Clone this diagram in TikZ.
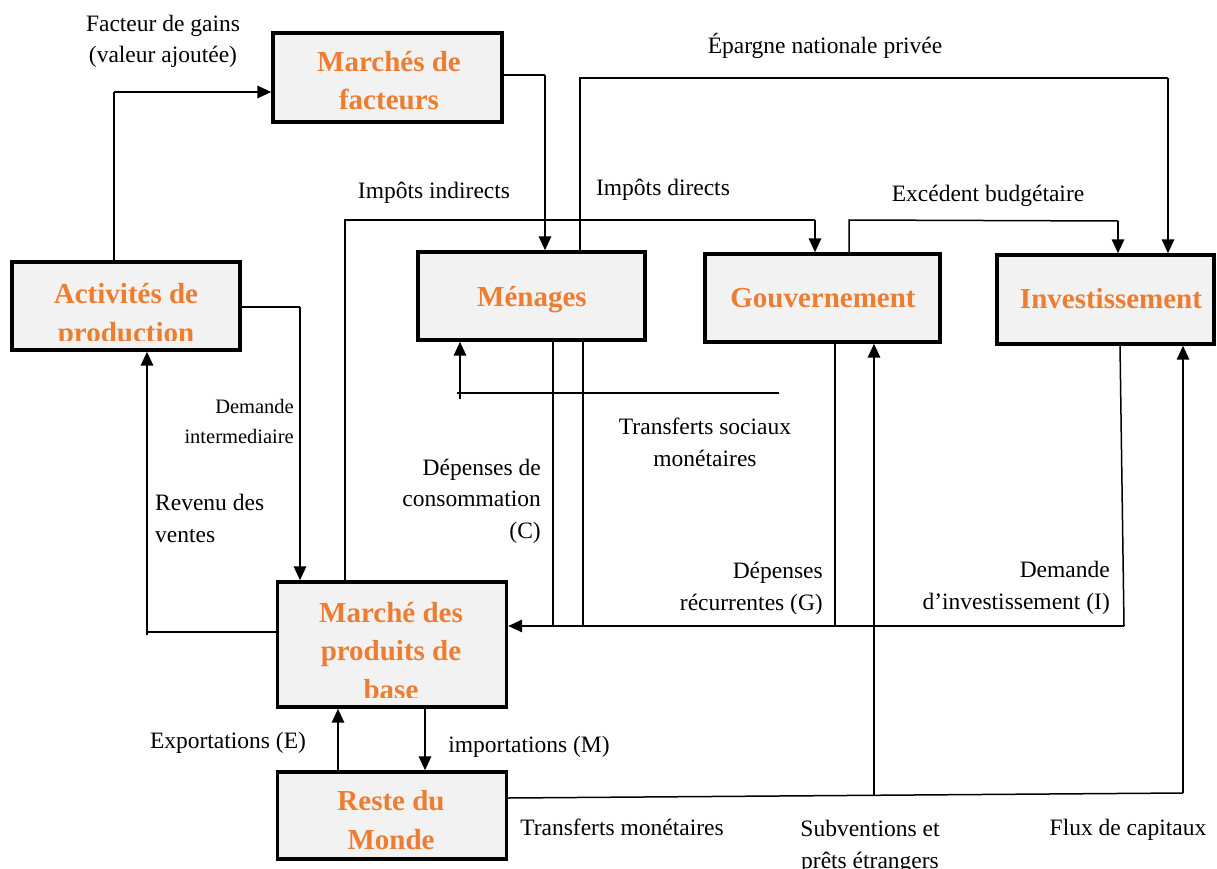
\documentclass[tikz,border=0pt]{standalone}
\usepackage{fontspec}
\setmainfont{Liberation Serif}
\usetikzlibrary{arrows.meta}
\definecolor{ttlc}{HTML}{ED7D31}
\definecolor{bxc}{HTML}{F2F2F2}
\begin{document}
\begin{tikzpicture}[x=1pt,y=-1pt,
  box/.style={draw, line width=3.2pt, fill=bxc, inner sep=0pt},
  ttl/.style={text=ttlc, font=\fontsize{29}{38.5}\selectfont\bfseries, align=center, inner sep=0pt},
  lbl/.style={font=\fontsize{23.5}{31.5}\selectfont, inner sep=0pt},
  sml/.style={font=\fontsize{20.5}{30}\selectfont, inner sep=0pt},
  ln/.style={line width=1.5pt},
  arr/.style={line width=2.8pt, -{Triangle[length=14pt,width=12pt]}},
]
\useasboundingbox (0,0) rectangle (1217,869);
\fill[white] (0,0) rectangle (1217,869);

% boxes
\node[box, minimum width=229pt, minimum height=89pt] (fac) at (387.5,77.5) {};
\node[box, minimum width=228pt, minimum height=88pt] (act) at (126,306) {};
\node[box, minimum width=227pt, minimum height=88pt] (men) at (531.5,296) {};
\node[box, minimum width=235pt, minimum height=88pt] (gov) at (822.5,298) {};
\node[box, minimum width=217pt, minimum height=89pt] (inv) at (1105.5,299.5) {};
\node[box, minimum width=229pt, minimum height=125pt] (mpb) at (392,644.5) {};
\node[box, minimum width=229pt, minimum height=87pt] (rdm) at (392,815.5) {};

% box titles (anchor=base is the baseline of the last line)
\node[ttl, anchor=base] at (389,110) {Marchés de\\facteurs};
\begin{scope}
  \clip (14,264) rectangle (238,340);
  \node[ttl, anchor=base] at (126,342) {Activités de\\production};
\end{scope}
\node[ttl, anchor=base] at (532,306) {Ménages};
\node[ttl, anchor=base] at (823,307) {Gouvernement};
\node[ttl, anchor=base] at (1111,308) {Investissement};
\begin{scope}
  \clip (280,584) rectangle (503,697);
  \node[ttl, anchor=base] at (391,699) {Marché des\\produits de\\base};
\end{scope}
\node[ttl, anchor=base] at (391,849) {Reste du\\Monde};

% coordinates
\coordinate (a1) at (114,92);
\coordinate (a2) at (545,75);
\coordinate (a3) at (580,78);
\coordinate (a4) at (1168,78);
\coordinate (a5) at (345,220);
\coordinate (a6) at (815,220);
\coordinate (a7) at (849,220);
\coordinate (a8) at (1118,221);
\coordinate (a9) at (300,307);
\coordinate (a10) at (147,632);
\coordinate (a10b) at (147,635);
\coordinate (a11) at (779,393);
\coordinate (a12) at (457,393);
\coordinate (a12b) at (460,399);
\coordinate (a13) at (553,626);
\coordinate (a14) at (583,626);
\coordinate (a15) at (1124,626);
\coordinate (a16) at (1120,0);
\coordinate (a17) at (835,626);
\coordinate (a18) at (874,796);
\coordinate (a19) at (1183,793);
\coordinate (a20) at (505,798);
\coordinate (a21) at (338,0);
\coordinate (a22) at (425,0);

% connectors
\draw[ln] (act.north -| a1) -- (a1);
\draw[arr] (a1) -- (a1 -| fac.west);
\draw[ln] (fac.east |- a2) -- (a2);
\draw[arr] (a2) -- (a2 |- men.north);
\draw[ln] (a3 |- men.north) -- (a3) -- (a4);
\draw[arr] (a4) -- (a4 |- inv.north);
\draw[ln] (a5 |- mpb.north) -- (a5) -- (a6);
\draw[arr] (a6) -- (a6 |- gov.north);
\draw[ln] (a7 |- gov.north) -- (a7) -- (a8);
\draw[arr] (a8) -- (a8 |- inv.north);
\draw[ln] (act.east |- a9) -- (a9);
\draw[arr] (a9) -- (a9 |- mpb.north);
\draw[ln] (mpb.west |- a10) -- (a10);
\draw[arr] (a10b) -- (a10 |- act.south);
\draw[ln] (a11) -- (a12);
\draw[arr] (a12b) -- (a12b |- men.south);
\draw[ln] (a13 |- men.south) -- (a13);
\draw[ln] (a14 |- men.south) -- (a14);
\draw[ln] (inv.south -| a16) -- (a15);
\draw[arr] (a15) -- (a15 -| mpb.east);
\draw[ln] (a17 |- gov.south) -- (a17);
\draw[arr] (a18) -- (a18 |- gov.south);
\draw[ln] (rdm.east |- a20) -- (a19);
\draw[arr] (a19) -- (a19 |- inv.south);
\draw[arr] (rdm.north -| a21) -- (mpb.south -| a21);
\draw[arr] (mpb.south -| a22) -- (rdm.north -| a22);

% labels (anchor=base is the baseline of the last line)
\node[lbl, align=center, anchor=base] at (163,63) {Facteur de gains\\(valeur ajoutée)};
\node[lbl, anchor=base] at (825,54) {Épargne nationale privée};
\node[lbl, anchor=base] at (434,198) {Impôts indirects};
\node[lbl, anchor=base] at (663,196) {Impôts directs};
\node[lbl, anchor=base] at (988,201) {Excédent budgétaire};
\node[sml, align=right, anchor=base east] at (294,443) {Demande\\intermediaire};
\node[lbl, align=left, anchor=base west] at (155,542) {Revenu des\\ventes};
\node[lbl, align=right, anchor=base east] at (541,538) {Dépenses de\\consommation\\(C)};
\node[lbl, align=center, anchor=base] at (705,466) {Transferts sociaux\\monétaires};
\begin{scope}
  \clip (600,540) rectangle (1115,613);
  \node[lbl, align=right, anchor=base east] at (823,610) {Dépenses\\récurrentes (G)};
  \node[lbl, align=right, anchor=base east] at (1110,609) {Demande\\d’investissement (I)};
\end{scope}
\node[lbl, anchor=base] at (228,748) {Exportations (E)};
\node[lbl, anchor=base] at (529,752) {importations (M)};
\node[lbl, anchor=base] at (622,835) {Transferts monétaires};
\node[lbl, align=center, anchor=base] at (870,868) {Subventions et\\prêts étrangers};
\node[lbl, anchor=base] at (1128,835) {Flux de capitaux};
\end{tikzpicture}
\end{document}
